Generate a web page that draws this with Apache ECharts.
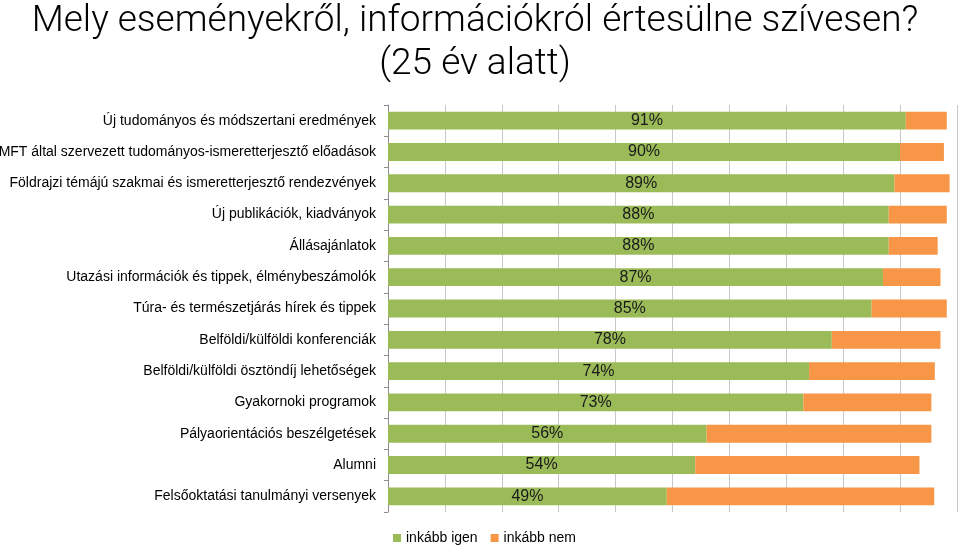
<!DOCTYPE html>
<html>
<head>
<meta charset="utf-8">
<script src="https://cdn.jsdelivr.net/npm/echarts@6/dist/echarts.min.js"></script>
<style>html,body{margin:0;padding:0;background:#fff;}#c{width:959px;height:545px;}</style>
</head>
<body>
<div id="c"></div>
<script>
const titleText = 'Mely eseményekről, információkról értesülne szívesen?\n(25 év alatt)';
const categories = [
  'Új tudományos és módszertani eredmények',
  'MFT által szervezett tudományos-ismeretterjesztő előadások',
  'Földrajzi témájú szakmai és ismeretterjesztő rendezvények',
  'Új publikációk, kiadványok',
  'Állásajánlatok',
  'Utazási információk és tippek, élménybeszámolók',
  'Túra- és természetjárás hírek és tippek',
  'Belföldi/külföldi konferenciák',
  'Belföldi/külföldi ösztöndíj lehetőségek',
  'Gyakornoki programok',
  'Pályaorientációs beszélgetések',
  'Alumni',
  'Felsőoktatási tanulmányi versenyek'
];
const seriesNames = ['inkább igen', 'inkább nem'];
const igen = [91, 90, 89, 88, 88, 87, 85, 78, 74, 73, 56, 54, 49];
const nem = [7.2, 7.7, 9.7, 10.2, 8.6, 10.1, 13.2, 19.1, 22.1, 22.5, 39.5, 39.4, 47.0];

const chart = echarts.init(document.getElementById('c'), null, {renderer: 'canvas'});
const font = '"Liberation Sans", Arial, sans-serif';
chart.setOption({
  animation: false,
  backgroundColor: '#ffffff',
  title: {
    text: titleText,
    left: 470,
    top: -5,
    textAlign: 'center',
    textStyle: {
      fontFamily: 'Roboto, "Liberation Sans", sans-serif',
      fontWeight: 300,
      fontSize: 37,
      lineHeight: 43,
      color: '#000000'
    }
  },
  legend: {
    data: seriesNames,
    left: 388,
    top: 526,
    itemWidth: 8,
    itemHeight: 8,
    itemGap: 13,
    icon: 'rect',
    textStyle: {fontFamily: font, fontSize: 14, color: '#000'}
  },
  grid: {left: 388, right: 2, top: 105, bottom: 33, containLabel: false, outerBoundsMode: 'none'},
  xAxis: {
    type: 'value',
    min: 0,
    max: 100,
    interval: 10,
    axisLine: {show: false},
    axisTick: {show: false},
    axisLabel: {show: false},
    splitLine: {show: true, lineStyle: {color: '#c8c8c8', width: 1}}
  },
  yAxis: {
    type: 'category',
    data: categories,
    inverse: true,
    axisLine: {show: true, lineStyle: {color: '#8c8c8c', width: 1}},
    axisTick: {show: true, inside: false, length: 4, lineStyle: {color: '#8c8c8c'}},
    axisLabel: {fontFamily: font, fontSize: 14, color: '#000', margin: 12}
  },
  series: [
    {
      name: seriesNames[0],
      type: 'bar',
      stack: 'total',
      data: igen,
      barCategoryGap: '43%',
      itemStyle: {color: '#9bbb59'},
      label: {
        show: true,
        position: 'inside',
        formatter: '{c}%',
        fontFamily: font,
        fontSize: 16,
        color: '#1a1a1a'
      }
    },
    {
      name: seriesNames[1],
      type: 'bar',
      stack: 'total',
      data: nem,
      barCategoryGap: '43%',
      itemStyle: {color: '#f79646'}
    }
  ]
});
</script>
</body>
</html>
